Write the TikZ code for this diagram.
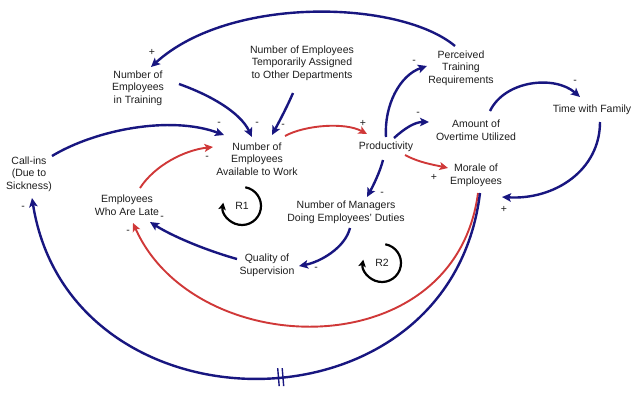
\documentclass[tikz,border=0pt]{standalone}
\usepackage{fontspec}
\setmainfont{Liberation Sans}
\usetikzlibrary{arrows.meta,calc}
\definecolor{cldnavy}{RGB}{24,22,128}
\definecolor{cldred}{RGB}{208,56,56}
\definecolor{cldtext}{RGB}{30,30,30}
\begin{document}
\begin{tikzpicture}[x=1pt,y=-1pt,
  var/.style={align=center,font=\fontsize{10.5}{12.6}\selectfont,text=cldtext,inner sep=1pt},
  sgn/.style={font=\fontsize{10.5}{12.6}\selectfont,text=cldtext,inner sep=0pt},
  blu/.style={line width=2.4pt,draw=cldnavy,-{Stealth[length=9pt,width=8.5pt,inset=2pt]}},
  rd/.style={line width=1.9pt,draw=cldred,-{Stealth[length=8.5pt,width=8pt,inset=2pt]}},
  loopar/.style={line width=2.2pt,draw=black,-{Stealth[length=7pt,width=7.5pt,inset=1.5pt]}},
  delay/.style={line width=1.4pt,draw=cldnavy}]
\useasboundingbox[fill=white] (0,0) rectangle (640,400);

% variables
\node[var] (train) at (138,88) {Number of\\Employees\\in Training};
\node[var] (temp) at (302,63) {Number of Employees\\Temporarily Assigned\\to Other Departments};
\node[var] (nea) at (257,159) {Number of\\Employees\\Available to Work};
\node[var] (callins) at (29,174) {Call-ins\\(Due to\\Sickness)};
\node[var] (late) at (127,205) {Employees\\Who Are Late};
\node[var] (quality) at (267,265) {Quality of\\Supervision};
\node[var] (managers) at (346,212) {Number of Managers\\Doing Employees' Duties};
\node[var] (prod) at (386,147) {Productivity};
\node[var] (ptr) at (461,68) {Perceived\\Training\\Requirements};
\node[var] (overtime) at (476,130) {Amount of\\Overtime Utilized};
\node[var] (family) at (592,110) {Time with Family};
\node[var] (morale) at (476,175) {Morale of\\Employees};

% loop markers
\node[sgn] (r1) at (242,206) {R1};
\node[sgn] (r2) at (382,263) {R2};
\draw[loopar] ($(r1)+(80:19pt)$) arc[start angle=80,end angle=-190,radius=19pt];
\draw[loopar] ($(r2)+(80:19pt)$) arc[start angle=80,end angle=-190,radius=19pt];

% links
\draw[blu] ($(ptr)+(-6,-22)$) .. controls (400,0) and (230,-5) .. ($(train)+(13,-21)$);
\draw[blu] ($(train)+(41,-4)$) .. controls (210,95) and (240,112) .. ($(nea)+(-5,-22)$);
\draw[blu] ($(temp)+(-9,30)$) .. controls (287,107) and (279,122) .. ($(nea)+(15,-24)$);
\draw[blu] ($(callins)+(23,-18)$) .. controls (95,130) and (170,115) .. ($(nea)+(-33,-24)$);
\draw[rd] ($(late)+(13,-17)$) .. controls (155,165) and (185,150) .. ($(nea)+(-44,-12)$);
\draw[rd] ($(nea)+(28,-23)$) .. controls (305,125) and (345,122) .. ($(prod)+(-19,-13)$);
\draw[blu] ($(prod)+(0,-10)$) .. controls (384,105) and (400,75) .. ($(ptr)+(-34,-2)$);
\draw[blu] ($(prod)+(8,-9)$) .. controls (405,128) and (415,122) .. ($(overtime)+(-47,-8)$);
\draw[rd] ($(prod)+(19,8)$) .. controls (420,163) and (435,165) .. ($(morale)+(-28,-7)$);
\draw[blu] ($(prod)+(-3,13)$) .. controls (380,172) and (373,186) .. ($(managers)+(21,-15)$);
\draw[blu] ($(overtime)+(14,-19)$) .. controls (505,80) and (555,75) .. ($(family)+(-12,-13)$);
\draw[blu] ($(family)+(8,12)$) .. controls (600,170) and (555,200) .. ($(morale)+(26,22)$);
\draw[rd] ($(morale)+(2,18)$) .. controls (455,368) and (195,362) .. ($(late)+(6,18)$);
\draw[blu] ($(morale)+(4,18)$) .. controls (450,440) and (70,438) .. ($(callins)+(3,24)$) coordinate[pos=0.465] (dly);
\draw[blu] ($(managers)+(4,16)$) .. controls (345,248) and (320,262) .. ($(quality)+(32,1)$);
\draw[blu] ($(quality)+(-30,-6)$) .. controls (205,250) and (172,236) .. ($(late)+(23,17)$);

% delay mark
\draw[delay] ($(dly)+(-3,-9)$) -- ($(dly)+(-1.5,9)$);
\draw[delay] ($(dly)+(1.5,-9)$) -- ($(dly)+(3,9)$);

% polarity signs
\node[sgn] (s1) at (152,52) {+};
\node[sgn] (s2) at (219,124) {-};
\node[sgn] (s3) at (257,124) {-};
\node[sgn] (s4) at (283,126) {-};
\node[sgn] (s5) at (207,158) {-};
\node[sgn] (s6) at (363,123) {+};
\node[sgn] (s7) at (414,62) {-};
\node[sgn] (s8) at (418,114) {-};
\node[sgn] (s9) at (434,177) {+};
\node[sgn] (s10) at (382,194) {-};
\node[sgn] (s11) at (575,82) {-};
\node[sgn] (s12) at (504,209) {+};
\node[sgn] (s13) at (128,232) {-};
\node[sgn] (s14) at (23,208) {-};
\node[sgn] (s15) at (316,269) {-};
\node[sgn] (s16) at (162,218) {-};
\end{tikzpicture}
\end{document}
